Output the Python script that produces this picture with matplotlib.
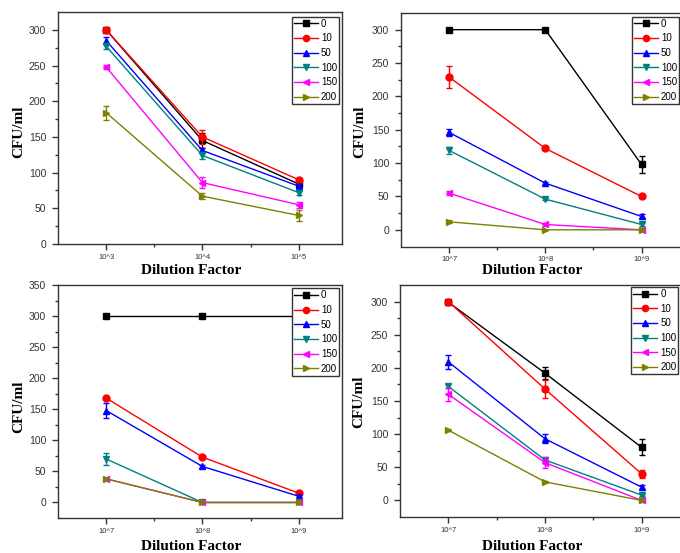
import matplotlib.pyplot as plt
from matplotlib.lines import Line2D

W, H = 680, 553

# ------------------------------------------------------------------
# data
conc = ['0', '10', '50', '100', '150', '200']
dil_a = ['10^3', '10^4', '10^5']
dil_b = ['10^7', '10^8', '10^9']

# top left
p1_vals = [[300, 145, 84], [300, 150, 90], [285, 131, 81],
           [277, 124, 72], [248, 86, 55], [184, 67, 40]]
p1_errs = [[2, 10, 3], [3, 10, 3], [5, 4, 3],
           [4, 5, 3], [3, 8, 4], [10, 4, 8]]

# top right
p2_vals = [[300, 300, 98], [229, 122, 50], [146, 70, 20],
           [119, 46, 8], [55, 8, 0], [12, 0, 0]]
p2_errs = [[0, 0, 13], [17, 3, 2], [5, 2, 3],
           [5, 2, 2], [3, 2, 2], [2, 0, 0]]

# bottom left
p3_vals = [[300, 300, 300], [168, 73, 15], [148, 58, 10],
           [70, 0, 0], [38, 0, 0], [38, 0, 0]]
p3_errs = [[0, 0, 0], [2, 2, 2], [12, 2, 2],
           [10, 0, 0], [2, 0, 0], [2, 0, 0]]

# bottom right
p4_vals = [[299, 192, 80], [300, 168, 40], [209, 93, 20],
           [172, 61, 8], [160, 57, 0], [106, 28, 0]]
p4_errs = [[2, 9, 12], [2, 13, 6], [11, 7, 3],
           [3, 3, 2], [10, 8, 2], [2, 2, 0]]

colors = ['#000000', '#ff0000', '#0000ff', '#008080', '#ff00ff', '#808000']
markers = ['s', 'o', '^', 'v', '<', '>']

plt.rcParams['font.family'] = ['Liberation Sans', 'DejaVu Sans']

fig = plt.figure(figsize=(W / 100, H / 100), dpi=100)


def px_axes(left, right, top, bottom):
	return fig.add_axes([left / W, 1 - bottom / H, (right - left) / W, (bottom - top) / H])


def draw(ax, ticklabels, vals, errs, xlim, ylim, ymax_tick, leg_xy, xlab_xy, ylab_xy):
	x = [1, 2, 3]
	handles = []
	for i in range(len(conc)):
		ax.errorbar(x, vals[i], yerr=errs[i], color=colors[i], marker=markers[i],
					ms=5, lw=1, elinewidth=1, capsize=2, capthick=1, zorder=3 + i)
		handles.append(Line2D([], [], color=colors[i], marker=markers[i], ms=4.5, lw=1))

	ax.set_xlim(*xlim)
	ax.set_ylim(*ylim)
	ax.set_xticks(x)
	ax.set_xticklabels(ticklabels)
	ax.set_xticks([1.5, 2.5], minor=True)
	ax.set_yticks(range(0, ymax_tick + 1, 50))
	ax.set_yticks(range(25, ymax_tick, 50), minor=True)

	ax.tick_params(which='both', direction='out', color='#333333', top=False, right=False)
	ax.tick_params(which='major', length=4, width=1)
	ax.tick_params(which='minor', length=2, width=1)
	ax.tick_params(axis='y', labelsize=7.5, pad=4.5, labelcolor='#333333')
	ax.tick_params(axis='x', labelsize=5.5, pad=3, labelcolor='#333333')
	for s in ax.spines.values():
		s.set_color('#333333')
		s.set_linewidth(1)

	leg = ax.legend(handles, conc, loc='upper left',
					bbox_to_anchor=(leg_xy[0] / W, 1 - leg_xy[1] / H),
					bbox_transform=fig.transFigure, fontsize=7, frameon=True,
					fancybox=False, framealpha=1, edgecolor='#333333',
					borderpad=0.2, labelspacing=0.48, handlelength=2.5,
					handletextpad=0.3, borderaxespad=0)
	leg.get_frame().set_linewidth(1)
	leg.set_zorder(20)

	ax.set_xlabel('Dilution Factor', family='Liberation Serif', weight='bold', fontsize=11, va='center')
	ax.xaxis.set_label_coords(xlab_xy[0] / W, 1 - xlab_xy[1] / H, transform=fig.transFigure)
	ax.set_ylabel('CFU/ml', family='Liberation Serif', weight='bold', fontsize=11, va='center')
	ax.yaxis.set_label_coords(ylab_xy[0] / W, 1 - ylab_xy[1] / H, transform=fig.transFigure)


ax1 = px_axes(58, 342, 12, 244)
draw(ax1, dil_a, p1_vals, p1_errs, (0.5, 3.45), (0, 325), 300,
	 (291.7, 16.7), (191, 271), (19, 132))

ax2 = px_axes(401, 689.6, 13, 246.5)
draw(ax2, dil_b, p2_vals, p2_errs, (0.5, 3.5), (-25, 325), 300,
	 (631.7, 16.7), (532, 271), (360, 132))

ax3 = px_axes(58, 342, 285, 518)
draw(ax3, dil_b, p3_vals, p3_errs, (0.5, 3.45), (-25, 350), 350,
	 (291.7, 288.3), (191, 547), (19, 407))

ax4 = px_axes(400, 690, 285, 517)
draw(ax4, dil_b, p4_vals, p4_errs, (0.5, 3.5), (-25, 325), 300,
	 (631, 287), (532, 547), (359, 402))

fig.savefig('out.png', dpi=100, facecolor='white')
